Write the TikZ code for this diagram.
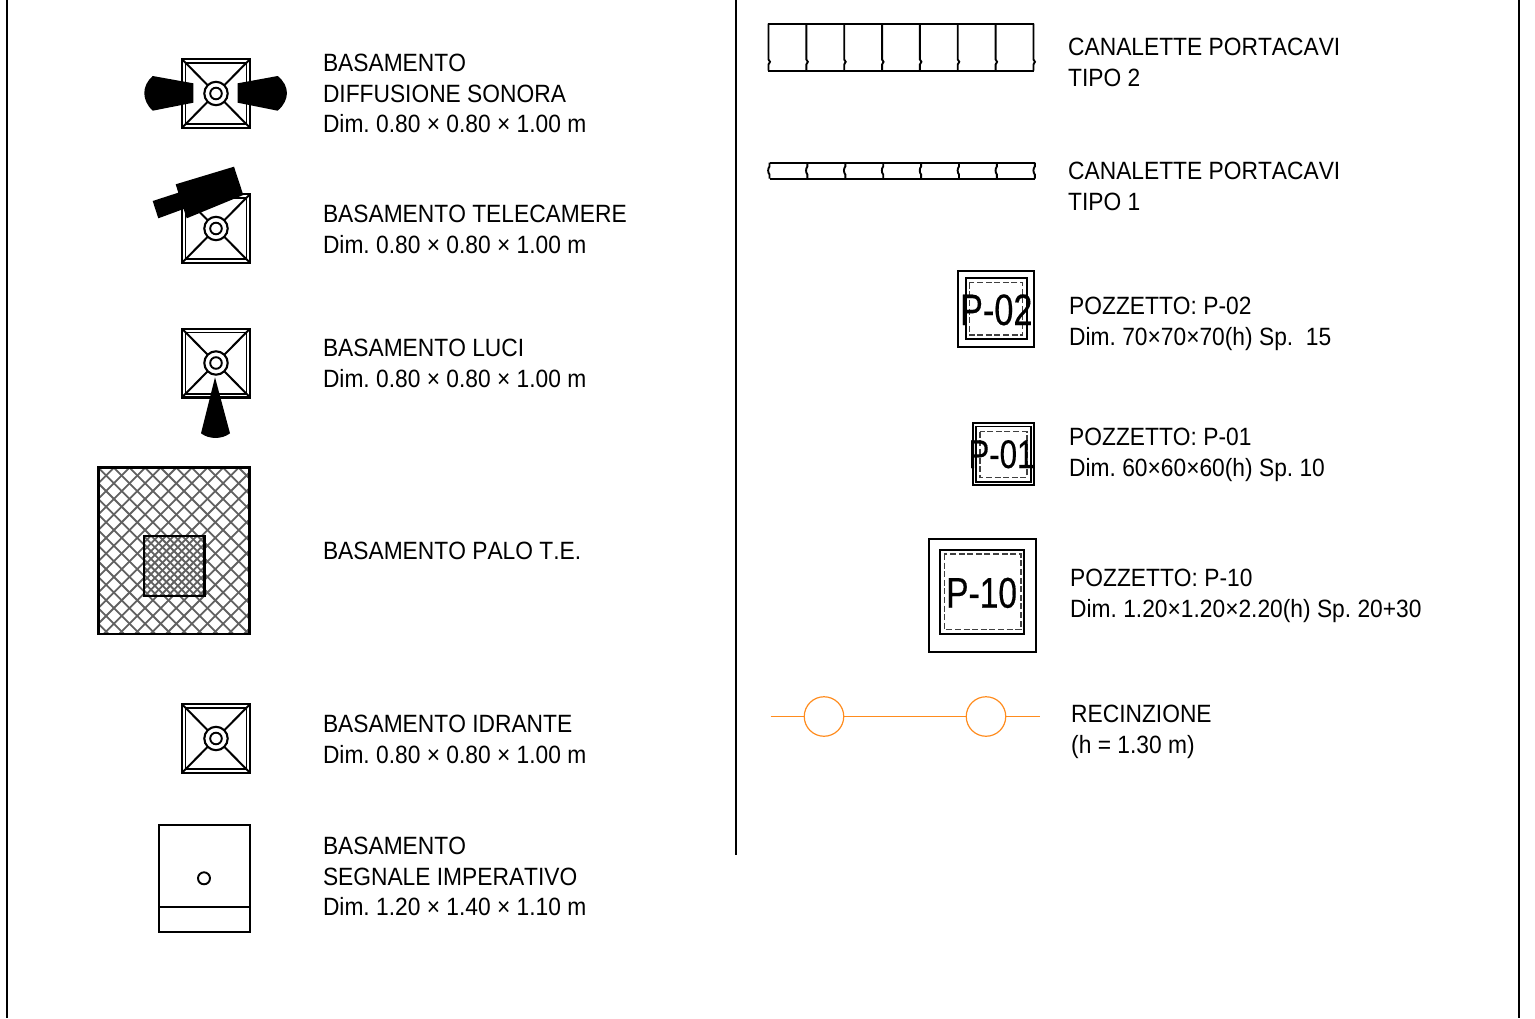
\documentclass[tikz,border=0pt]{standalone}
\usepackage{fontspec}
\setmainfont{Liberation Sans}
\newfontfamily\labfont[FakeStretch=0.911,Kerning=Off]{Liberation Sans}
\newfontfamily\tagfont[FakeStretch=0.78,FakeBold=0.3]{Liberation Sans}
\definecolor{fence}{RGB}{255,140,30}
\definecolor{hatchgrey}{gray}{0.38}
\tikzset{
  lab/.style={anchor=north west,inner sep=0pt,align=left,font=\labfont\frenchspacing\fontsize{25}{30.5}\selectfont},
  frameline/.style={line width=2.4pt},
  box/.style={line width=2pt},
  thick box/.style={line width=2.6pt},
  solid black/.style={fill=black,draw=none},
  dash box/.style={line width=1.2pt,dash pattern=on 6pt off 2.6pt,draw=black!75},
  tag/.style={inner sep=0pt,anchor=base west,font=\tagfont\fontsize{#1}{#1}\selectfont},
  fencepost/.style={circle,draw=fence,line width=1.2pt,minimum size=39.5pt,inner sep=0pt},
  fenceline/.style={draw=fence,line width=1.2pt},
  basa/.pic={
    \draw[line width=2.4pt] (-34,-34.3) rectangle (34,34.3);
    \draw[line width=1.6pt] (-30.4,-30.7) rectangle (30.4,30.7);
    \draw[line width=2pt] (-34,-34.3) -- (-8.5,-8.5) (34,-34.3) -- (8.5,-8.5)
      (-34,34.3) -- (-8.5,8.5) (34,34.3) -- (8.5,8.5);
    \draw[line width=2.1pt] (0,0) circle (11.7);
    \draw[line width=1.9pt] (0,0) circle (5.8);
  },
}
\begin{document}
\begin{tikzpicture}[x=1pt,y=-1pt]
\useasboundingbox (0,0) rectangle (1535,1018);
% frame
\draw[frameline] (7.2,0) -- (7.2,1018);
\draw[frameline] (1519,0) -- (1519,1018);
\draw[frameline] (736,0) -- (736,855);

% left column
\pic at (216,93.5) {basa};
\fill[solid black] (193.3,83.3) -- (193.3,102.7) -- (152.7,110.7) .. controls (141.5,100) and (141.5,86) .. (152.7,76) -- cycle;
\fill[solid black] (237.7,83.3) -- (237.7,102.7) -- (277.7,110.7) .. controls (290,100) and (290,86) .. (277.7,76) -- cycle;

\pic at (216,228.5) {basa};
\fill[solid black] (175.7,184.3) -- (234,166.7) -- (243.3,195) -- (186.7,218.3) -- (183.6,209) -- (158.3,218.3) -- (152.7,201) -- (178.3,192.7) -- cycle;

\pic at (216,363) {basa};
\fill[solid black] (215,377.3) -- (230,433.3) .. controls (222,439.5) and (209,439.5) .. (201,433.3) -- cycle;

% palo
\begin{scope}
  \clip (98.3,467.7) rectangle (249.3,634);
  \foreach \k in {-30,...,40} {
    \draw[hatchgrey,line width=1.8pt] (98.3+\k*15.6,467.7) -- ++(170,170);
    \draw[hatchgrey,line width=1.8pt] (98.3+\k*15.6,467.7) -- ++(-170,170);
  }
\end{scope}
\fill[white] (143.3,535.7) rectangle (204.7,596.3);
\begin{scope}
  \clip (143.3,535.7) rectangle (204.7,596.3);
  \foreach \k in {-20,...,30} {
    \draw[hatchgrey,line width=1.8pt] (143.3+\k*7.7,535.7) -- ++(70,70);
    \draw[hatchgrey,line width=1.8pt] (143.3+\k*7.7,535.7) -- ++(-70,70);
  }
\end{scope}
\draw[thick box] (98.3,467.7) rectangle (249.3,634);
\draw[line width=2.2pt] (143.6,535.9) rectangle (204.5,596.2);

\pic at (216,738.5) {basa};

% imperativo
\draw[box] (159,825) rectangle (250,931.7);
\draw[box] (159,906.7) -- (250,906.7);
\draw[line width=1.9pt] (204,878.3) circle (6);

% labels left
\node[lab] (t1) at (322.8,54.2) {BASAMENTO\\DIFFUSIONE SONORA\\Dim. 0.80 × 0.80 × 1.00 m};
\node[lab] (t2) at (322.8,205.2) {BASAMENTO TELECAMERE\\Dim. 0.80 × 0.80 × 1.00 m};
\node[lab] (t3) at (322.8,339.2) {BASAMENTO LUCI\\Dim. 0.80 × 0.80 × 1.00 m};
\node[lab] (t4) at (322.8,542.2) {BASAMENTO PALO T.E.};
\node[lab] (t5) at (322.8,715.2) {BASAMENTO IDRANTE\\Dim. 0.80 × 0.80 × 1.00 m};
\node[lab] (t6) at (322.8,837.2) {BASAMENTO\\SEGNALE IMPERATIVO\\Dim. 1.20 × 1.40 × 1.10 m};

% canalette tipo 2
\draw[box] (767.8,23.7) -- (1034,23.7) (767.8,70.7) -- (1034,70.7);
\foreach \i in {0,...,7} {
  \pgfmathsetmacro{\xx}{768.5+\i*37.85}
  \draw[line width=1.9pt] (\xx,23.7) -- (\xx,59.5) .. controls (\xx+2,60.5) and (\xx+2,63) .. (\xx,64.5) -- (\xx,70.7);
}
% canalette tipo 1
\draw[box] (769.5,162.7) -- (1035,162.7) (769.5,178.7) -- (1035,178.7);
\foreach \i in {0,...,7} {
  \pgfmathsetmacro{\xx}{769.5+\i*37.9}
  \draw[line width=1.9pt] (\xx,162.7) -- (\xx,166.5) .. controls (\xx-1.8,168.5) and (\xx-1.8,172.5) .. (\xx,174.5) -- (\xx,178.7);
}

% P-02
\draw[box] (958.3,270.7) rectangle (1034,346.7);
\draw[box] (965.7,278.3) rectangle (1026.7,339);
\draw[dash box] (969.3,282.7) rectangle (1022.7,335);
\node[tag=44] (p02) at (959.8,325) {P-02};
% P-01
\draw[box] (972.7,423.3) rectangle (1034,485);
\draw[line width=1.5pt] (976,426.7) rectangle (1031,482);
\draw[dash box] (980,431.7) rectangle (1027,477.3);
\node[tag=40] (p01) at (968.3,468) {P-01};
% P-10
\draw[box] (929,539) rectangle (1036,652.3);
\draw[box] (940,550) rectangle (1024,634);
\draw[dash box] (944.3,554) rectangle (1021,629.3);
\node[tag=43] (p10) at (946,607.7) {P-10};

% fence
\node[fencepost] (c1) at (824,716.5) {};
\node[fencepost] (c2) at (986,716.5) {};
\coordinate (f1) at (770.5,716.5);
\coordinate (f2) at (1039.5,716.5);
\draw[fenceline] (f1) -- (c1) (c1) -- (c2) (c2) -- (f2);

% labels right
\node[lab] (r1) at (1068,38.2) {CANALETTE PORTACAVI\\TIPO 2};
\node[lab] (r2) at (1068,162.2) {CANALETTE PORTACAVI\\TIPO 1};
\node[lab] (r3) at (1069,297.2) {POZZETTO: P-02\\Dim. 70×70×70(h) Sp.\ \ 15};
\node[lab] (r4) at (1069,428.2) {POZZETTO: P-01\\Dim. 60×60×60(h) Sp. 10};
\node[lab] (r5) at (1070,569.2) {POZZETTO: P-10\\Dim. 1.20×1.20×2.20(h) Sp. 20+30};
\node[lab] (r6) at (1071,705.2) {RECINZIONE\\(h = 1.30 m)};
\end{tikzpicture}
\end{document}
